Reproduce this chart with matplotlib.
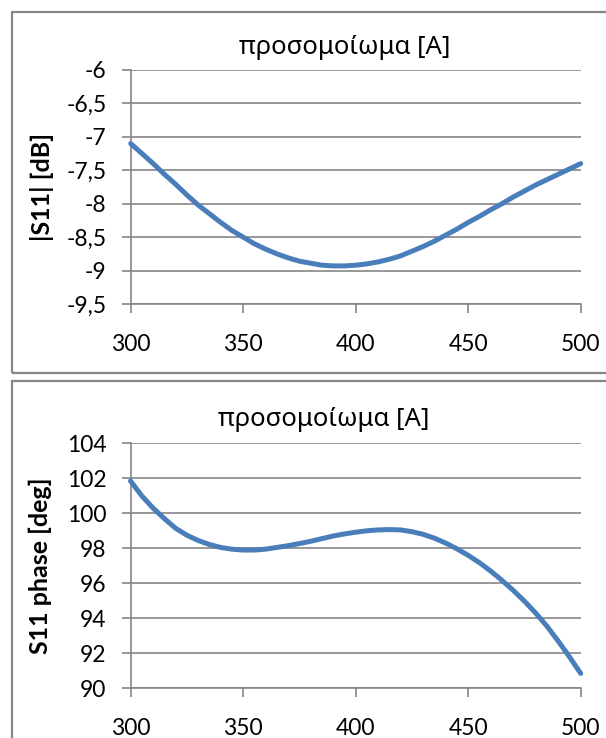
import matplotlib
matplotlib.use("Agg")
import matplotlib.pyplot as plt
from matplotlib.patches import Rectangle
from matplotlib.ticker import FuncFormatter

# ---- data ----
freq = [300, 305, 310, 315, 320, 325, 330, 335, 340, 345, 350, 355, 360, 365, 370,
        375, 380, 385, 390, 395, 400, 405, 410, 415, 420, 425, 430, 435, 440, 445,
        450, 455, 460, 465, 470, 475, 480, 485, 490, 495, 500]
s11_db = [-7.10, -7.25, -7.40, -7.56, -7.71, -7.87, -8.02, -8.15, -8.28, -8.40,
          -8.50, -8.60, -8.68, -8.75, -8.81, -8.86, -8.89, -8.92, -8.93, -8.93,
          -8.92, -8.90, -8.87, -8.83, -8.78, -8.71, -8.64, -8.56, -8.47, -8.38,
          -8.28, -8.19, -8.09, -8.00, -7.90, -7.81, -7.72, -7.64, -7.56, -7.48, -7.40]
s11_phase = [101.85, 101.0, 100.3, 99.7, 99.15, 98.75, 98.45, 98.22, 98.05, 97.95,
             97.9, 97.9, 97.95, 98.05, 98.15, 98.27, 98.4, 98.55, 98.7, 98.82,
             98.92, 99.0, 99.05, 99.07, 99.05, 98.95, 98.8, 98.58, 98.3, 97.97,
             97.6, 97.18, 96.7, 96.17, 95.6, 94.98, 94.3, 93.55, 92.7, 91.8, 90.85]
x_ticks = [300, 350, 400, 450, 500]
db_ticks = [-9.5, -9, -8.5, -8, -7.5, -7, -6.5, -6]
phase_ticks = [90, 92, 94, 96, 98, 100, 102, 104]
title_text = "προσομοίωμα [A]"
ylabel_top = "|S11| [dB]"
ylabel_bottom = "S11 phase [deg]"

FAM = ["Lato", "Noto Sans", "DejaVu Sans"]
plt.rcParams["font.family"] = FAM

W, H = 606, 738
fig = plt.figure(figsize=(W / 100, H / 100), dpi=100)

GRID = "#868686"
LINE = "#4A7EBB"

def fx(px):
    return px / W

def fy(py):
    return 1 - py / H

# panel borders
for (x0, y0, x1, y1) in [(12, 12, 640, 373), (12, 381, 640, 760)]:
    fig.add_artist(Rectangle((fx(x0), fy(y1)), fx(x1 - x0), (y1 - y0) / H,
                             transform=fig.transFigure, fill=False,
                             edgecolor=GRID, linewidth=1.6, clip_on=False))

def comma(v, pos):
    return ("%g" % v).replace(".", ",")

def make_ax(left, top, right, bottom, yvals, yticks, ylab, title_x, title_y, ylab_x):
    ax = fig.add_axes([fx(left), fy(bottom), fx(right - left), (bottom - top) / H])
    ax.plot(freq, yvals, color=LINE, linewidth=3.6, solid_capstyle="round",
            solid_joinstyle="round", clip_on=False, zorder=3)
    ax.set_xlim(300, 500)
    ax.set_ylim(yticks[0], yticks[-1])
    ax.set_xticks(x_ticks)
    ax.set_yticks(yticks)
    ax.yaxis.set_major_formatter(FuncFormatter(comma))
    ax.grid(axis="y", color=GRID, linewidth=1.2)
    ax.set_axisbelow(True)
    for s in ("top", "right"):
        ax.spines[s].set_visible(False)
    for s in ("left", "bottom"):
        ax.spines[s].set_color(GRID)
        ax.spines[s].set_linewidth(1.2)
    ax.tick_params(axis="both", direction="out", length=6.3, width=1.2,
                   color=GRID, labelsize=16.5, labelcolor="black")
    ax.tick_params(axis="y", pad=11)
    ax.tick_params(axis="x", pad=15)
    fig.text(fx(title_x), fy(title_y), title_text, ha="center", va="center",
             fontsize=18.5, family=["Noto Sans", "DejaVu Sans"])
    fig.text(fx(ylab_x), fy((top + bottom) / 2), ylab, ha="center", va="center",
             rotation=90, fontsize=18, fontweight="bold", family=FAM)
    return ax

make_ax(130.7, 70, 580.7, 304, s11_db, db_ticks, ylabel_top, 345, 47, 42.5)
make_ax(130.5, 443.3, 580.7, 688.3, s11_phase, phase_ticks, ylabel_bottom, 324, 419, 40.6)

fig.savefig("out.png", dpi=100, facecolor="white")
